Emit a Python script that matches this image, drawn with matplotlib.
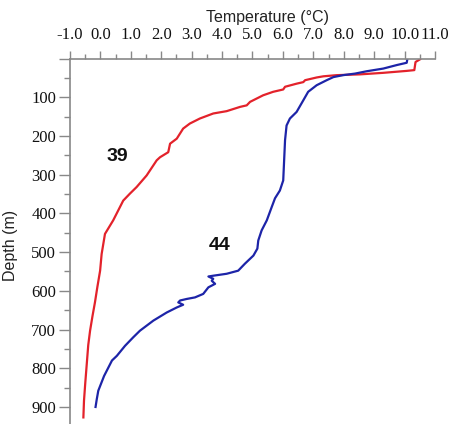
import matplotlib
matplotlib.use("Agg")
import matplotlib.pyplot as plt
from matplotlib.ticker import MultipleLocator

# temperature profiles (deg C) vs depth (m)
st39_temp = [10.51, 10.36, 10.32, 10.07, 9.30, 8.53, 7.77, 7.33, 7.11, 6.73, 6.67, 6.45,
             6.07, 6.01, 5.68, 5.35, 4.92, 4.81, 4.59, 4.15, 3.71, 3.27, 2.94, 2.72,
             2.51, 2.29, 2.23, 1.96, 1.85, 1.52, 1.19, 0.97, 0.75, 0.42, 0.15, 0.04,
             -0.01, -0.10, -0.18, -0.26, -0.34, -0.40, -0.45, -0.50, -0.54, -0.56]
st39_depth = [2, 9, 30, 32, 37, 41, 43, 46, 49, 56, 61, 65,
              73, 80, 86, 95, 112, 121, 125, 136, 142, 155, 168, 181,
              207, 220, 242, 255, 263, 302, 332, 349, 367, 418, 453, 505,
              548, 590, 630, 665, 703, 740, 790, 840, 884, 927]

st44_temp = [10.09, 10.07, 9.74, 9.30, 8.75, 8.37, 7.98, 7.66, 7.44, 7.11, 6.83, 6.67,
             6.45, 6.23, 6.12, 6.07, 6.01, 5.90, 5.74, 5.63, 5.47, 5.30, 5.19, 5.16,
             5.03, 4.75, 4.53, 4.15, 3.71, 3.55, 3.71, 3.66, 3.77, 3.55, 3.38, 3.11,
             2.84, 2.62, 2.56, 2.72, 2.51, 2.18, 1.74, 1.30, 1.08, 0.81, 0.54, 0.38,
             0.25, 0.12, 0.02, -0.07, -0.12, -0.16]
st44_depth = [2, 11, 17, 26, 33, 39, 43, 48, 56, 69, 86, 108,
              138, 155, 173, 211, 315, 341, 361, 384, 418, 444, 470, 491,
              509, 530, 548, 556, 561, 563, 569, 574, 582, 591, 608, 617,
              621, 625, 630, 636, 643, 656, 677, 703, 720, 742, 768, 780,
              800, 820, 840, 858, 880, 900]

x_ticks = [-1, 0, 1, 2, 3, 4, 5, 6, 7, 8, 9, 10, 11]
x_labels = ["-1.0", "0.0", "1.0", "2.0", "3.0", "4.0", "5.0", "6.0", "7.0", "8.0",
            "9.0", "10.0", "11.0"]
y_ticks = [0, 100, 200, 300, 400, 500, 600, 700, 800, 900]
y_labels = ["", "100", "200", "300", "400", "500", "600", "700", "800", "900"]

fig = plt.figure(figsize=(4.54, 4.24), dpi=100)
ax = fig.add_axes([70 / 454, 0, 365 / 454, 365.5 / 424])

ax.plot(st39_temp, st39_depth, color="#e3222b", lw=1.6)
ax.plot(st44_temp, st44_depth, color="#1d24a8", lw=1.6)

ax.text(0.57, 252, "39", fontsize=14, fontweight="bold", family="Liberation Sans",
        ha="center", va="center", color="#111111")
ax.text(3.93, 483, "44", fontsize=14, fontweight="bold", family="Liberation Sans",
        ha="center", va="center", color="#111111")

ax.set_xlim(-1, 11)
ax.set_ylim(944, 0)

ax.xaxis.tick_top()
ax.xaxis.set_label_position("top")
ax.set_xticks(x_ticks)
ax.set_xticklabels(x_labels)
ax.xaxis.set_minor_locator(MultipleLocator(0.5))
ax.set_yticks(y_ticks)
ax.set_yticklabels(y_labels)
ax.yaxis.set_minor_locator(MultipleLocator(50))

for lab in ax.get_xticklabels() + ax.get_yticklabels():
    lab.set_family("Liberation Serif")
    lab.set_fontsize(12)
    lab.set_color("#111111")

ax.tick_params(axis="x", which="major", direction="out", length=6, width=1,
               color="#888888", pad=5)
ax.tick_params(axis="x", which="minor", direction="out", length=3.5, width=1,
               color="#888888")
ax.tick_params(axis="y", which="major", direction="out", length=8, width=1,
               color="#888888", pad=2)
ax.tick_params(axis="y", which="minor", direction="out", length=4, width=1,
               color="#888888")

for side in ["right", "bottom"]:
    ax.spines[side].set_visible(False)
for side in ["left", "top"]:
    ax.spines[side].set_color("#888888")
    ax.spines[side].set_linewidth(1.2)

ax.set_xlabel("Temperature (\u00b0C)", fontsize=11.5, family="Liberation Sans", color="#222222")
ax.xaxis.label.set_verticalalignment("center")
ax.xaxis.set_label_coords((267 - 70) / 365, 1 + (58.5 - 17) / 365.5)
ax.set_ylabel("Depth (m)", fontsize=11.5, family="Liberation Sans", color="#222222")
ax.yaxis.set_label_coords(-(70 - 18) / 365, (424 - 245.5) / 365.5)

fig.savefig("out.png", dpi=100)
